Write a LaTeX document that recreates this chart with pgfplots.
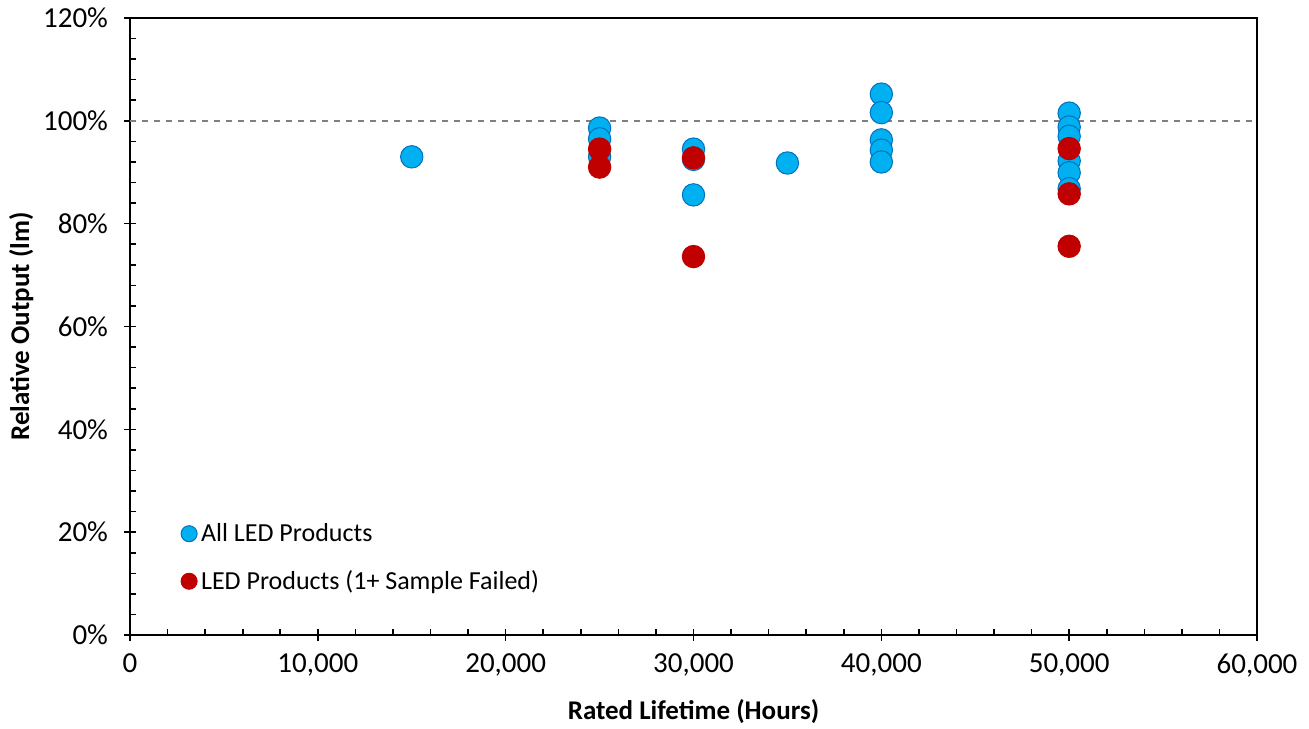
\documentclass[border=0pt]{standalone}
\usepackage{pgfplots}
\pgfplotsset{compat=1.18}
\usepackage{fontspec}
\setmainfont{Carlito}
\definecolor{ledblue}{RGB}{0,176,240}
\definecolor{ledblueedge}{RGB}{0,112,192}
\definecolor{ledred}{RGB}{192,0,0}
\begin{document}
\begin{tikzpicture}
\begin{axis}[
  scale only axis,
  width=563.5pt, height=308.5pt,
  xmin=0, xmax=60000, ymin=0, ymax=120,
  xtick={0,10000,...,60000},
  ytick={0,20,...,120},
  minor x tick num=4, minor y tick num=4,
  xtick pos=left, ytick pos=left,
  tick align=inside,
  major tick length=6pt, minor tick length=3pt,
  major x tick style={yshift=-3pt},
  major y tick style={xshift=-3pt},
  tick style={black, line width=0.8pt},
  axis line style={black, line width=0.8pt},
  scaled x ticks=false,
  /pgf/number format/assume math mode=true,
  xticklabel style={/pgf/number format/1000 sep={,}, font=\fontsize{14.5}{17}\selectfont, yshift=-6pt},
  yticklabel={\pgfmathprintnumber{\tick}\%},
  yticklabel style={font=\fontsize{14.5}{17}\selectfont, xshift=-7.5pt},
  xlabel={\textbf{Rated Lifetime (Hours)}},
  ylabel={\textbf{Relative Output (lm)}},
  label style={font=\fontsize{13.5}{16}\selectfont},
  xlabel style={yshift=-4pt},
  ylabel style={yshift=-2pt},
  legend style={draw=none, fill=none, at={(axis cs:2700,22.6)}, anchor=north west,
    font=\fontsize{13}{15}\selectfont, row sep=9pt, inner sep=0pt},
  legend cell align=left,
  legend image code/.code={\draw[#1, mark size=4pt] plot coordinates {(0.3cm,0cm)};},
  clip=false,
]
\addplot[gray, dashed, line width=0.8pt, forget plot] coordinates {(0,100) (60000,100)};
\addplot[only marks, mark=*, mark size=5.6pt, mark options={fill=ledblue, draw=ledblueedge, line width=0.5pt}] coordinates {
(15000,93.0)
(25000,98.6) (25000,96.5) (25000,93.0)
(30000,94.5) (30000,92.5) (30000,85.6)
(35000,91.8)
(40000,105.2) (40000,101.6) (40000,96.3) (40000,94.3) (40000,92.0)
(50000,101.5) (50000,98.8) (50000,97.0) (50000,92.2) (50000,89.9) (50000,86.8)
};
\addlegendentry{All LED Products}
\addplot[only marks, mark=*, mark size=5.6pt, mark options={fill=ledred, draw=ledred, line width=0.5pt}] coordinates {
(25000,94.5) (25000,91.0)
(30000,92.8) (30000,73.6)
(50000,94.6) (50000,85.8) (50000,75.6)
};
\addlegendentry{LED Products (1+ Sample Failed)}
\end{axis}
\pgfresetboundingbox
\path[use as bounding box] (-65pt,-46.5pt) rectangle (589.5pt,317.5pt);
\end{tikzpicture}
\end{document}
